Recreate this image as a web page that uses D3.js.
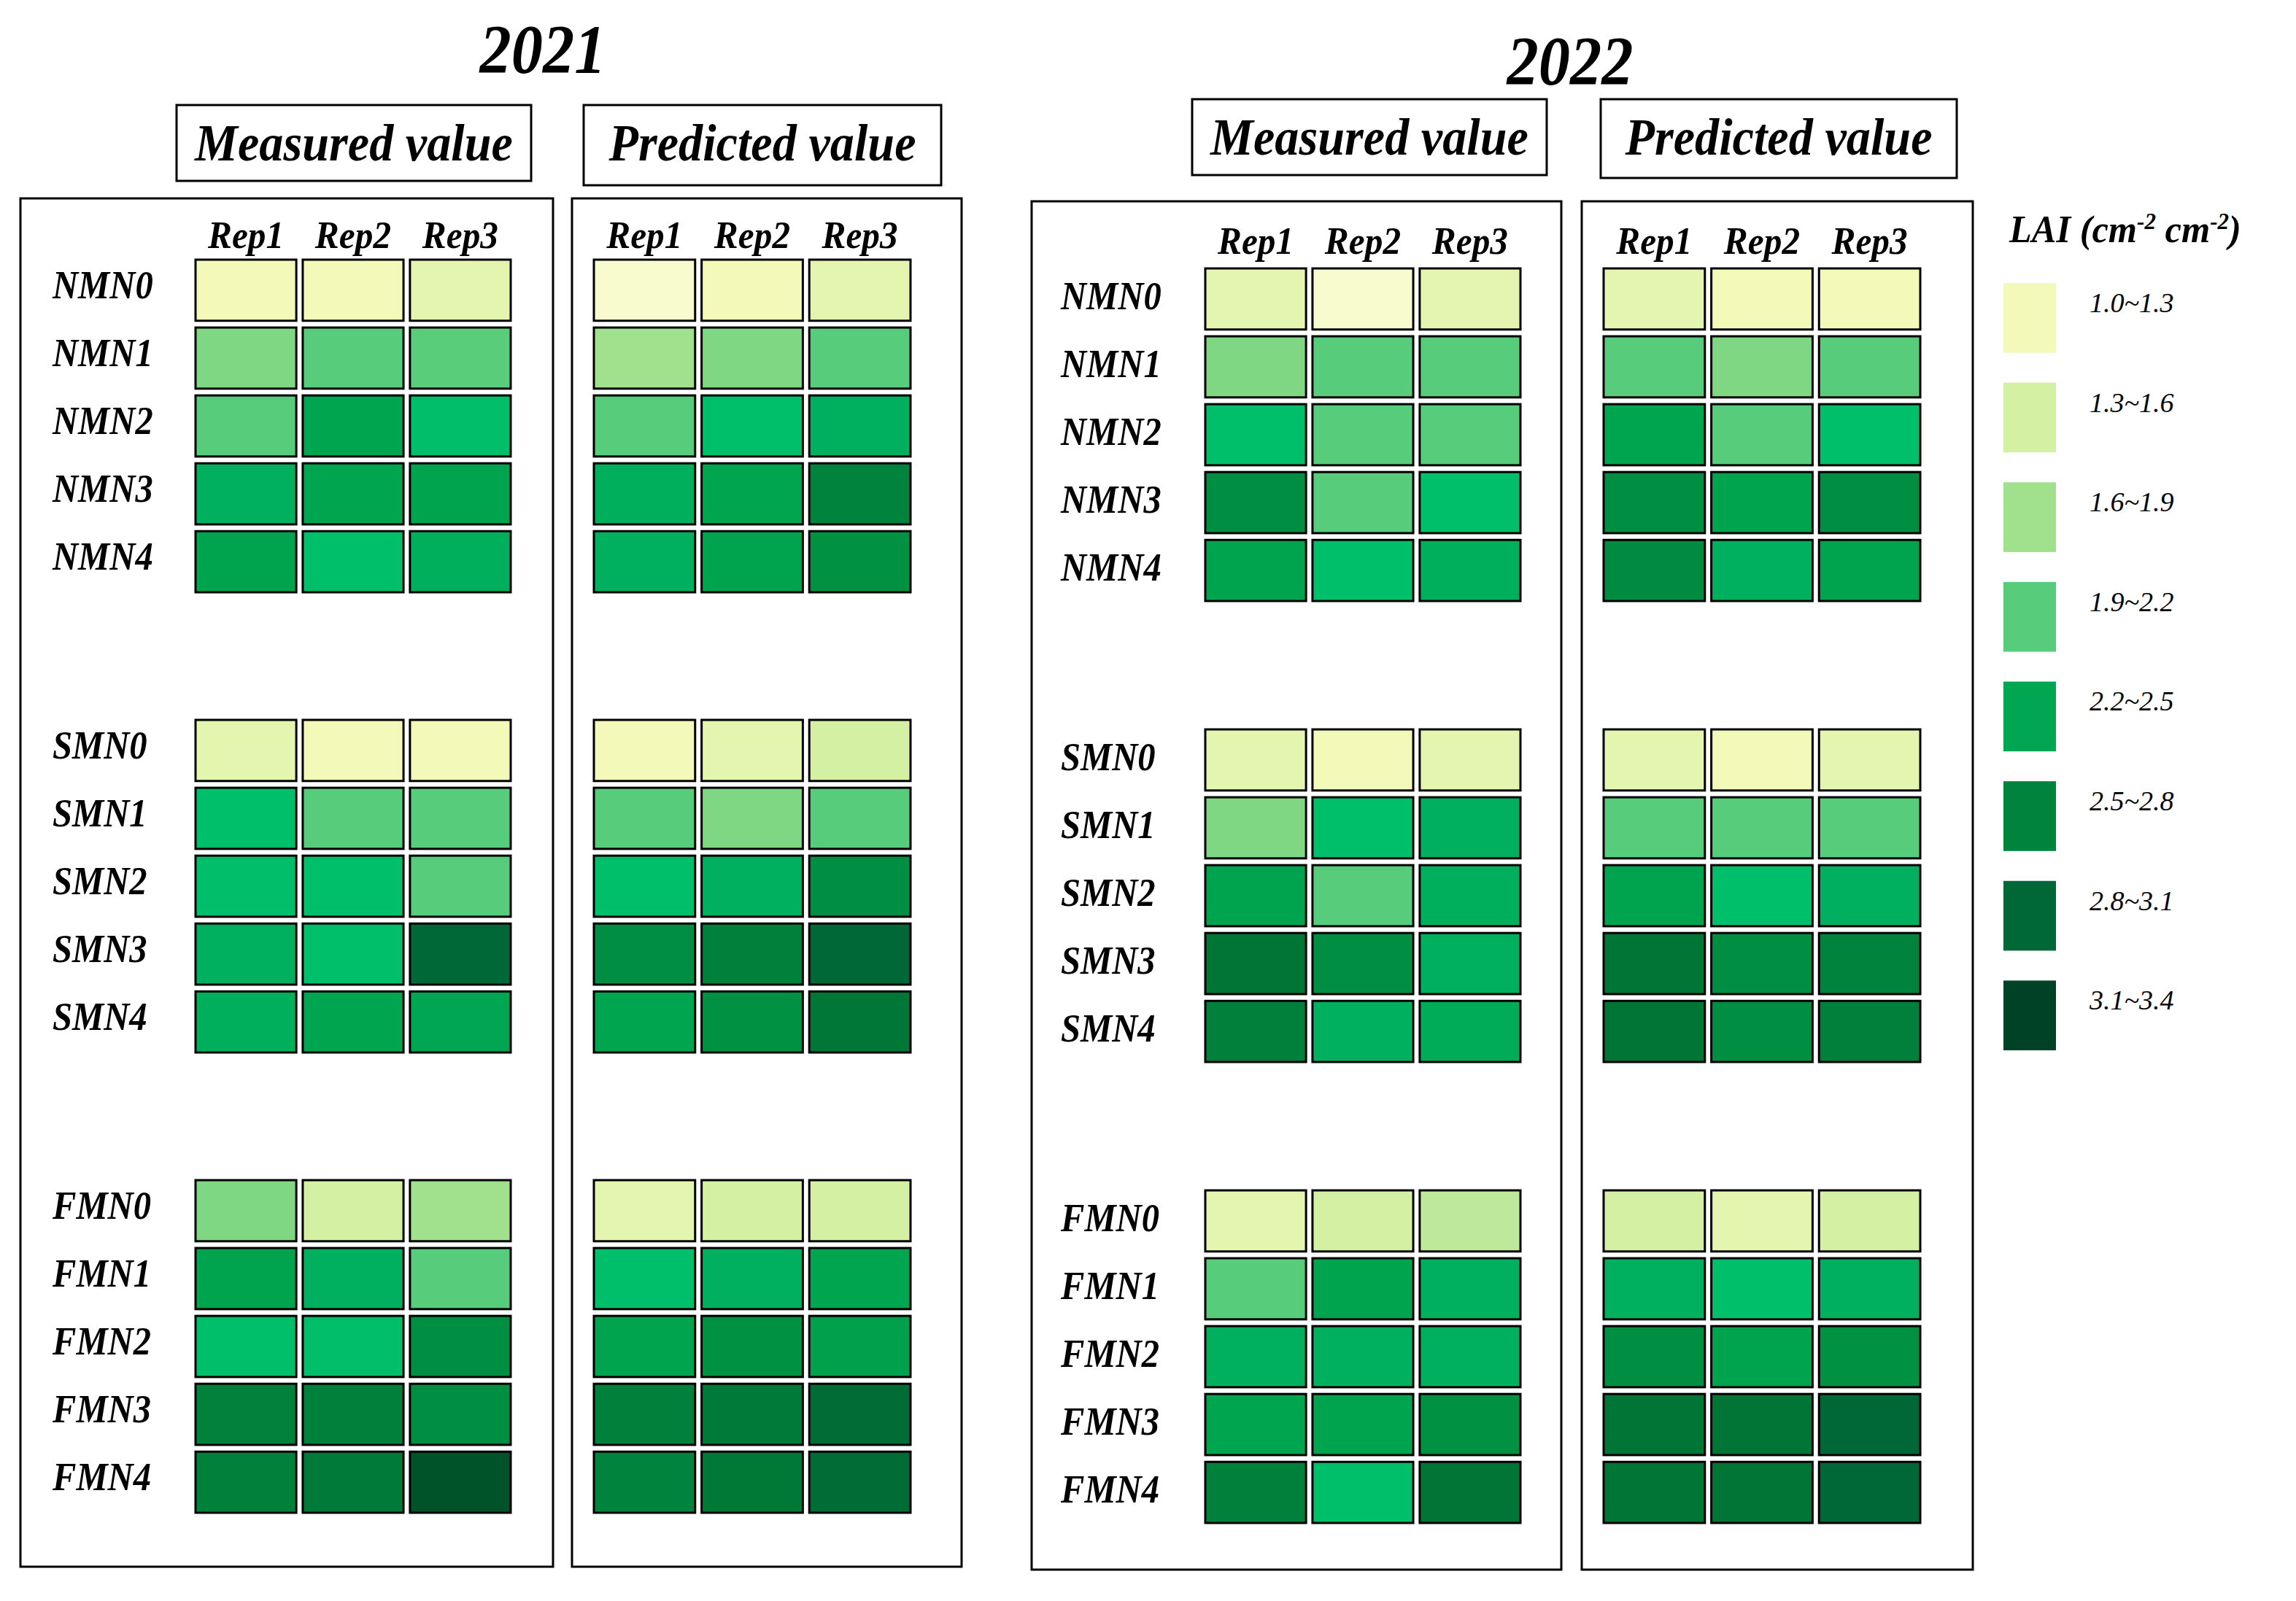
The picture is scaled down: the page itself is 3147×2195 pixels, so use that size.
<!DOCTYPE html>
<html>
<head>
<meta charset="utf-8">
<script src="https://cdn.jsdelivr.net/npm/d3@7"></script>
<style>
  body { margin: 0; background: #fff; }
  text { font-family: "Liberation Serif", "Times New Roman", serif; font-style: italic; font-weight: bold; fill: #000; }
</style>
</head>
<body>
<svg></svg>
<script>
const width = 3147;
const height = 2195;

// ---- data ----
const years = ["2021", "2022"];
const kinds = ["Measured value", "Predicted value"];
const reps = ["Rep1", "Rep2", "Rep3"];
const groups = ["NMN", "SMN", "FMN"];
const levels = ["0", "1", "2", "3", "4"];

// LAI per treatment (rows: group x level), columns Rep1..Rep3
const measured2021 = [
  [1.15, 1.15, 1.30], [1.90, 2.05, 2.04], [2.05, 2.36, 2.16], [2.26, 2.36, 2.37], [2.37, 2.15, 2.27],
  [1.30, 1.15, 1.15], [2.15, 2.05, 2.05], [2.16, 2.15, 2.05], [2.26, 2.15, 2.95], [2.27, 2.36, 2.35],
  [1.90, 1.45, 1.75], [2.37, 2.26, 2.05], [2.15, 2.16, 2.55], [2.67, 2.68, 2.55], [2.68, 2.75, 3.10]
];
const predicted2021 = [
  [1.05, 1.15, 1.30], [1.75, 1.90, 2.05], [2.05, 2.15, 2.26], [2.27, 2.36, 2.65], [2.26, 2.37, 2.52],
  [1.15, 1.30, 1.45], [2.05, 1.90, 2.05], [2.15, 2.26, 2.55], [2.55, 2.68, 2.95], [2.36, 2.52, 2.78],
  [1.30, 1.45, 1.45], [2.15, 2.26, 2.36], [2.37, 2.52, 2.40], [2.68, 2.75, 2.90], [2.66, 2.76, 2.90]
];
const measured2022 = [
  [1.30, 1.05, 1.30], [1.90, 2.05, 2.05], [2.15, 2.05, 2.05], [2.55, 2.05, 2.15], [2.37, 2.15, 2.27],
  [1.30, 1.15, 1.30], [1.90, 2.15, 2.26], [2.37, 2.05, 2.27], [2.80, 2.55, 2.26], [2.68, 2.26, 2.30],
  [1.30, 1.45, 1.60], [2.05, 2.37, 2.26], [2.26, 2.26, 2.26], [2.36, 2.37, 2.52], [2.68, 2.15, 2.80]
];
const predicted2022 = [
  [1.30, 1.15, 1.15], [2.05, 1.90, 2.05], [2.36, 2.05, 2.15], [2.55, 2.37, 2.55], [2.58, 2.26, 2.37],
  [1.30, 1.15, 1.30], [2.05, 2.05, 2.05], [2.37, 2.15, 2.26], [2.80, 2.55, 2.65], [2.80, 2.55, 2.68],
  [1.45, 1.30, 1.45], [2.26, 2.15, 2.26], [2.55, 2.37, 2.52], [2.80, 2.80, 2.95], [2.80, 2.80, 2.95]
];

const legendLabels = ["1.0~1.3", "1.3~1.6", "1.6~1.9", "1.9~2.2", "2.2~2.5", "2.5~2.8", "2.8~3.1", "3.1~3.4"];
const legendMids = [1.15, 1.45, 1.75, 2.05, 2.35, 2.65, 2.95, 3.25];

// ---- colour scale ----
const colorDomain = [1.0, 1.15, 1.3, 1.45, 1.6, 1.75, 1.9, 2.05, 2.15, 2.25, 2.35, 2.5, 2.65, 2.8, 2.95, 3.1, 3.25];
const colorRange = ["#fafcd8", "#f2f9b9", "#e3f5ae", "#d4f0a2", "#bfe99a", "#a1e18d", "#80d783", "#57cc7a",
  "#00bf6b", "#00b15f", "#00a651", "#009444", "#00843d", "#007535", "#006837", "#005228", "#004225"];
const color = d3.scaleLinear().domain(colorDomain).range(colorRange).clamp(true);

let svg = d3.select("svg")
  .attr("width", width)
  .attr("height", height);

svg.append("rect").attr("width", width).attr("height", height).attr("fill", "#fff");

// squeezed serif text, as in the figure
function label(x, y, str, size, anchor, sx) {
  return svg.append("text")
    .attr("transform", `translate(${x},${y}) scale(${sx || 0.9},1)`)
    .attr("text-anchor", anchor || "middle")
    .style("font-size", size + "px")
    .text(str);
}

// ---- year titles and header boxes ----
const titles = [
  {x: 744, y: 100, boxes: [[242, 144, 728, 248], [800, 144, 1290, 254]], ty: 220},
  {x: 2152, y: 116, boxes: [[1634, 136, 2120, 240], [2194, 136, 2682, 244]], ty: 212}
];
titles.forEach((t, i) => {
  label(t.x, t.y, years[i], 96, "middle", 0.9);
  t.boxes.forEach((b, k) => {
    svg.append("rect")
      .attr("x", b[0]).attr("y", b[1])
      .attr("width", b[2] - b[0]).attr("height", b[3] - b[1])
      .attr("fill", "none").attr("stroke", "#000").attr("stroke-width", 3);
    label((b[0] + b[2]) / 2, t.ty, kinds[k], 72, "middle", 0.92);
  });
});

// ---- heatmap panels ----
const panels = [
  {values: measured2021, box: [28, 272, 758, 2148], cols: [268, 700], y0: 356, step: 631, repY: 340, labelX: 72, ly: 11},
  {values: predicted2021, box: [784, 272, 1318, 2148], cols: [814, 1248], y0: 356, step: 631, repY: 340},
  {values: measured2022, box: [1414, 276, 2140, 2152], cols: [1652, 2084], y0: 368, step: 632, repY: 348, labelX: 1454, ly: 14},
  {values: predicted2022, box: [2168, 276, 2704, 2152], cols: [2198, 2632], y0: 368, step: 632, repY: 348}
];

const bandH = 456;

panels.forEach(p => {
  svg.append("rect")
    .attr("x", p.box[0]).attr("y", p.box[1])
    .attr("width", p.box[2] - p.box[0]).attr("height", p.box[3] - p.box[1])
    .attr("fill", "none").attr("stroke", "#000").attr("stroke-width", 3);

  const x = d3.scaleBand().domain(reps).range(p.cols).paddingInner(0.06);
  const yGroup = d3.scaleBand().domain(groups)
    .range([p.y0, p.y0 + 2 * p.step + bandH])
    .paddingInner(1 - bandH / p.step);
  const yRow = d3.scaleBand().domain(levels).range([0, bandH]).paddingInner(0.1);

  reps.forEach(r => label(x(r) + x.bandwidth() / 2, p.repY, r, 52, "middle", 0.95));

  const cells = [];
  groups.forEach((g, gi) => levels.forEach((l, li) => {
    reps.forEach((r, ri) => cells.push({g, l, r, v: p.values[gi * levels.length + li][ri]}));
  }));

  svg.append("g").selectAll("rect")
    .data(cells)
    .join("rect")
    .attr("x", d => x(d.r))
    .attr("y", d => yGroup(d.g) + yRow(d.l))
    .attr("width", x.bandwidth())
    .attr("height", yRow.bandwidth())
    .attr("fill", d => color(d.v))
    .attr("stroke", "#000")
    .attr("stroke-width", 3);

  if (p.labelX) {
    groups.forEach(g => levels.forEach(l => {
      label(p.labelX, yGroup(g) + yRow(l) + yRow.bandwidth() / 2 + p.ly, g + l, 54, "start", 0.9);
    }));
  }
});

// ---- legend ----
const lt = svg.append("text")
  .attr("transform", "translate(2754,332) scale(0.97,1)")
  .style("font-size", "52px");
lt.append("tspan").text("LAI (cm");
lt.append("tspan").attr("dy", -18).style("font-size", "32px").text("-2");
lt.append("tspan").attr("dy", 18).text(" cm");
lt.append("tspan").attr("dy", -18).style("font-size", "32px").text("-2");
lt.append("tspan").attr("dy", 18).text(")");

const ly = d3.scaleBand().domain(legendLabels).range([388, 1440]).paddingInner(0.3);

svg.append("g").selectAll("rect")
  .data(legendLabels)
  .join("rect")
  .attr("x", 2746)
  .attr("y", d => ly(d))
  .attr("width", 72)
  .attr("height", ly.bandwidth())
  .attr("fill", (d, i) => color(legendMids[i]));

legendLabels.forEach(d => {
  label(2864, ly(d) + 40, d, 38, "start", 1).style("font-weight", "normal");
});
</script>
</body>
</html>
